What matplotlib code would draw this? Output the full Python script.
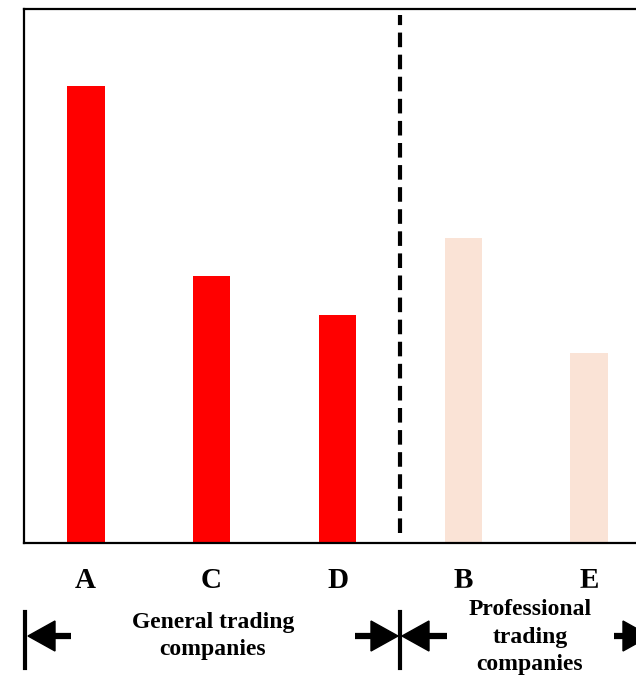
import matplotlib.pyplot as plt
from matplotlib.patches import Polygon, Rectangle

# companies and bar heights (relative units)
companies = ['A', 'C', 'D', 'B', 'E']
values = [85.6, 50.0, 42.7, 57.1, 35.6]
colors = ['#FF0000', '#FF0000', '#FF0000', '#FAE3D6', '#FAE3D6']
group_labels = ['General trading\ncompanies', 'Professional\ntrading\ncompanies']

W, H = 636, 677
fig = plt.figure(figsize=(W / 100, H / 100), dpi=100)

# main axes, its right side runs past the figure edge like the reference
ax = fig.add_axes([24 / W, (H - 543) / H, (651 - 24) / W, (543 - 9) / H])
x = list(range(len(companies)))
ax.bar(x, values, width=0.30, color=colors)
ax.set_xlim(-0.49, 4.49)
ax.set_ylim(0, 100)
ax.axvline(2.5, ymin=0.019, ymax=0.989, color='black', lw=3, ls=(0, (3.5, 1.8)))
ax.set_yticks([])
ax.set_xticks(x)
ax.set_xticklabels(companies, fontsize=21, fontweight='bold', family='Liberation Serif')
ax.tick_params(axis='x', length=0, pad=17.5)
for s in ax.spines.values():
    s.set_linewidth(1.6)

# overlay in pixel units for group captions and arrows
ov = fig.add_axes([0, 0, 1, 1], zorder=5)
ov.set_xlim(0, W)
ov.set_ylim(H, 0)
ov.axis('off')
ov.patch.set_alpha(0)

# white box hiding the lower part of the B / E labels
ov.add_patch(Rectangle((404, 588), 232, 89, color='white', zorder=1))

ov.text(213, 636, group_labels[0], ha='center', va='center', fontsize=17,
        fontweight='bold', family='Liberation Serif', linespacing=1.4, zorder=2)
ov.text(530, 637, group_labels[1], ha='center', va='center', fontsize=17,
        fontweight='bold', family='Liberation Serif', linespacing=1.4, zorder=2)


def arrow(tip, tail, y):
    d = 1 if tail > tip else -1
    base = tip + d * 27
    ov.plot([base, tail], [y, y], color='black', lw=4.5, solid_capstyle='butt', zorder=3)
    ov.add_patch(Polygon([(tip, y), (base, y - 15), (base, y + 15)], color='black', zorder=3))


ymid = 636
for bx in [25, 400]:
    ov.plot([bx, bx], [612, 668], color='black', lw=3, zorder=3)
arrow(28, 71, ymid)
arrow(398, 355, ymid)
arrow(402, 447, ymid)
arrow(650, 614, ymid)

fig.savefig('out.png', dpi=100)
